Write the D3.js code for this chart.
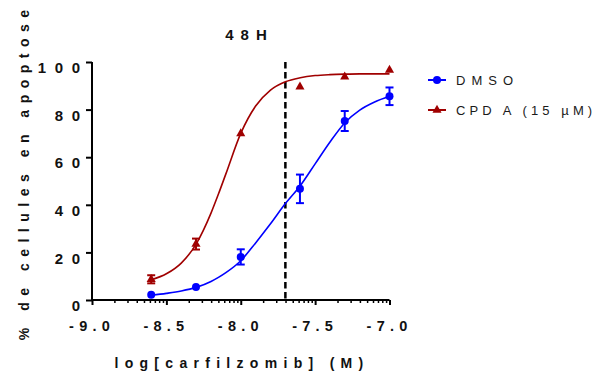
<!DOCTYPE html>
<html><head><meta charset="utf-8">
<script src="https://cdn.jsdelivr.net/npm/d3@7"></script>
<style>
html,body{margin:0;padding:0;background:#fff;}
svg{display:block;font-family:"Liberation Sans",Arial,sans-serif;}
</style></head>
<body>
<svg id="chart" width="595" height="376"></svg>
<script>
// ---- data ----
const title = "48H";
const xTitle = "log[carfilzomib] (M)";
const yTitle = "% de cellules en apoptose";
const xTicks = [-9.0, -8.5, -8.0, -7.5, -7.0];
const xTickLabels = ["-9.0", "-8.5", "-8.0", "-7.5", "-7.0"];
const yTicks = [0, 20, 40, 60, 80, 100];
const yTickLabels = ["0", "20", "40", "60", "80", "100"];
const seriesNames = ["DMSO", "CPD A (15 \u00b5M)"];
const logConc = [-8.602, -8.301, -8.0, -7.602, -7.301, -7.0];
const dmsoMean = [2.2, 5.5, 18.1, 46.7, 75.2, 85.6];
const dmsoErr  = [0, 0, 3.2, 6.0, 4.2, 3.7];
const cpdMean  = [8.7, 23.5, 69.9, 89.6, 93.8, 96.6];
const cpdErr   = [1.7, 2.3, 0, 0, 0, 0];
const fitX     = [-8.6, -8.5, -8.4, -8.3, -8.2, -8.15, -8.1, -8.0, -7.9, -7.8, -7.7, -7.6, -7.5, -7.4, -7.3, -7.2, -7.1, -7.0];
const dmsoFit  = [2.0, 2.8, 3.8, 5.3, 7.8, 9.5, 11.5, 16.5, 24.0, 32.0, 40.5, 48.0, 57.2, 66.4, 74.5, 79.8, 83.2, 85.6];
const cpdFit   = [8.5, 11.0, 15.5, 23.5, 36.5, 44.5, 53.0, 70.0, 81.5, 88.2, 91.7, 93.4, 94.3, 94.7, 94.9, 95.0, 95.0, 95.0];
const refLine  = -7.7;

// ---- layout ----
const blue = "#0000ff", red = "#a00000";
const svg = d3.select("#chart");
const x = d3.scaleLinear().domain([-9, -7]).range([92, 389.5]);
const y = d3.scaleLinear().domain([0, 100]).range([300, 62]);

// title
svg.append("text").attr("x", 246).attr("y", 40).attr("dx", 3.5)
  .attr("text-anchor", "middle").attr("font-size", 15).attr("font-weight", "bold")
  .attr("letter-spacing", 7).attr("fill", "#111").text(title);

// y axis
const yAxis = svg.append("g").attr("transform", "translate(92,0)")
  .call(d3.axisLeft(y).tickValues(yTicks).tickFormat("").tickSize(6).tickPadding(0));
yAxis.select(".domain").attr("stroke", "#000").attr("stroke-width", 2).attr("d", "M0,62V300");
yAxis.selectAll(".tick line").attr("stroke", "#000").attr("stroke-width", 2);
// spaced, right-aligned labels: one chunk per character
const yStep = 16.9;
yAxis.selectAll(".tick").each(function(d, i) {
  const t = d3.select(this).select("text")
    .attr("font-size", 15).attr("font-weight", "bold").attr("fill", "#111")
    .attr("text-anchor", "end").attr("y", 10.7).attr("dy", null).attr("x", null);
  const chars = yTickLabels[i].split("");
  t.selectAll("tspan").data(chars).join("tspan")
    .attr("x", (c, j) => -12 - (chars.length - 1 - j) * yStep)
    .attr("y", 10.7)
    .text(c => c);
});

// x axis minor ticks (log pattern within each major interval)
const minor = [];
for (let i = 0; i < xTicks.length - 1; i++) {
  for (let k = 2; k <= 9; k++) minor.push(xTicks[i] + (xTicks[i+1]-xTicks[i]) * Math.log10(k));
}
const xMinor = svg.append("g").attr("transform", "translate(0,300)")
  .call(d3.axisBottom(x).tickValues(minor).tickFormat("").tickSize(3));
xMinor.select(".domain").remove();
xMinor.selectAll(".tick line").attr("stroke", "#000").attr("stroke-width", 1.5);

const xAxis = svg.append("g").attr("transform", "translate(0,300)")
  .call(d3.axisBottom(x).tickValues(xTicks).tickFormat((d,i)=>xTickLabels[i]).tickSize(5).tickPadding(17));
xAxis.select(".domain").attr("stroke", "#000").attr("stroke-width", 2).attr("d", "M92,0H389.5");
xAxis.selectAll(".tick line").attr("stroke", "#000").attr("stroke-width", 2);
xAxis.selectAll(".tick text").attr("font-size", 14.5).attr("font-weight", "bold")
  .attr("letter-spacing", 5.2).attr("fill", "#111").attr("dx", -0.5).attr("y", 21).attr("dy", "0.71em");

// axis titles
svg.append("text").attr("x", 239).attr("y", 368).attr("dx", 3)
  .attr("text-anchor", "middle").attr("font-size", 14).attr("font-weight", "bold")
  .attr("letter-spacing", 6.3).attr("fill", "#111").text(xTitle);
svg.append("text").attr("transform", "translate(28.5,175) rotate(-90)").attr("dx", 3.2)
  .attr("text-anchor", "middle").attr("font-size", 14).attr("font-weight", "bold")
  .attr("letter-spacing", 6.5).attr("fill", "#111").text(yTitle);

// reference dashed line
svg.append("line").attr("x1", x(refLine)).attr("x2", x(refLine))
  .attr("y1", y(100)).attr("y2", y(0))
  .attr("stroke", "#000").attr("stroke-width", 2.5).attr("stroke-dasharray", "6.5,3.5");

// fitted curves
const line = d3.line().x((d)=>x(d[0])).y((d)=>y(d[1])).curve(d3.curveMonotoneX);
svg.append("path").attr("d", line(fitX.map((v,i)=>[v, cpdFit[i]])))
  .attr("fill", "none").attr("stroke", red).attr("stroke-width", 1.6);
svg.append("path").attr("d", line(fitX.map((v,i)=>[v, dmsoFit[i]])))
  .attr("fill", "none").attr("stroke", blue).attr("stroke-width", 1.6);

// error bars
function errBars(mean, err, color) {
  const g = svg.append("g").attr("stroke", color).attr("stroke-width", 2);
  logConc.forEach((c, i) => {
    if (!err[i]) return;
    const cx = x(c), y1 = y(mean[i] + err[i]), y2 = y(mean[i] - err[i]);
    g.append("line").attr("x1", cx).attr("x2", cx).attr("y1", y1).attr("y2", y2);
    g.append("line").attr("x1", cx-4).attr("x2", cx+4).attr("y1", y1).attr("y2", y1);
    g.append("line").attr("x1", cx-4).attr("x2", cx+4).attr("y1", y2).attr("y2", y2);
  });
}
errBars(cpdMean, cpdErr, red);
errBars(dmsoMean, dmsoErr, blue);

// markers
const tri = d3.symbol().type(d3.symbolTriangle).size(36);
svg.append("g").selectAll("path").data(logConc).join("path")
  .attr("d", tri).attr("fill", red)
  .attr("transform", (d,i)=>`translate(${x(d)},${y(cpdMean[i])})`);
svg.append("g").selectAll("circle").data(logConc).join("circle")
  .attr("cx", (d)=>x(d)).attr("cy", (d,i)=>y(dmsoMean[i])).attr("r", 4).attr("fill", blue);

// legend
const leg = [
  {name: seriesNames[0], color: blue, y: 80, sym: "circle", ls: 6},
  {name: seriesNames[1], color: red, y: 110, sym: "tri", ls: 4.1}
];
leg.forEach(l => {
  svg.append("line").attr("x1", 428).attr("x2", 446).attr("y1", l.y).attr("y2", l.y)
    .attr("stroke", l.color).attr("stroke-width", 2);
  if (l.sym === "circle") svg.append("circle").attr("cx", 437).attr("cy", l.y).attr("r", 4).attr("fill", l.color);
  else svg.append("path").attr("d", tri).attr("fill", l.color).attr("transform", `translate(437,${l.y})`);
  svg.append("text").attr("x", 456).attr("y", l.y + 5).attr("font-size", 13)
    .attr("letter-spacing", l.ls).attr("fill", "#1a1a1a").text(l.name);
});
</script>
</body></html>
